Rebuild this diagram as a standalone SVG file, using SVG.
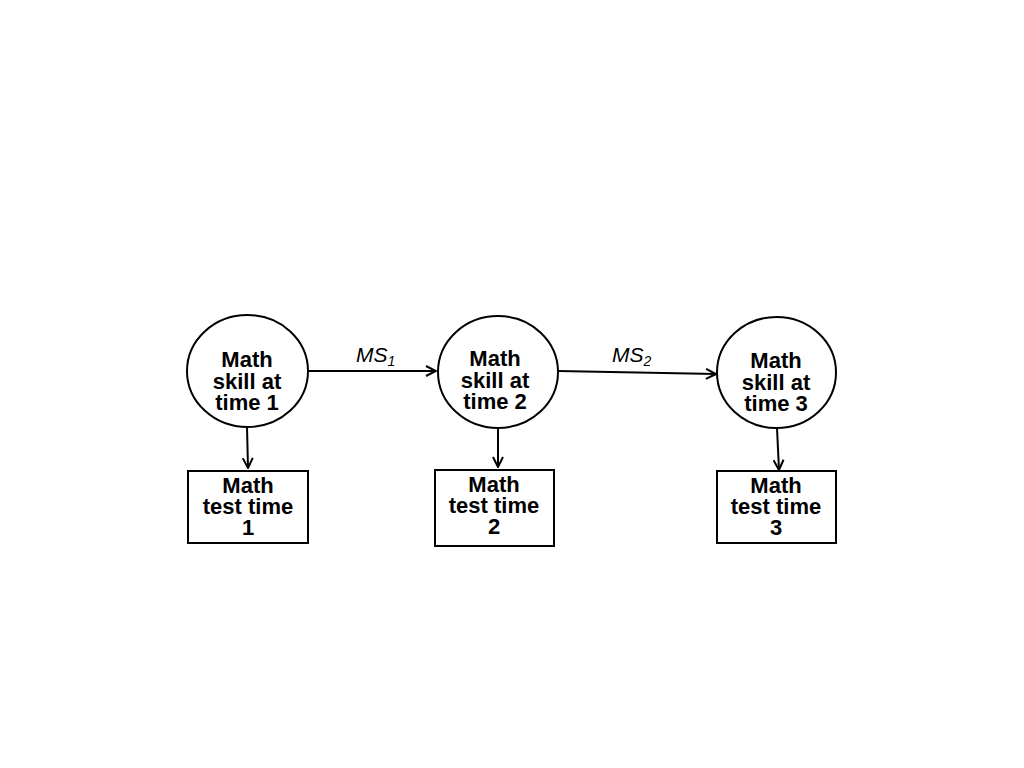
<svg xmlns="http://www.w3.org/2000/svg" width="1024" height="768" viewBox="0 0 1024 768">
<style>
.n{fill:#fff;stroke:#000;stroke-width:2}
.t{font-family:"Liberation Sans",Arial,sans-serif;font-weight:bold;font-size:22px;text-anchor:middle;fill:#000}
.l{font-family:"Liberation Sans",Arial,sans-serif;font-style:italic;font-size:21px;fill:#000}
.c{fill:none;stroke:#000;stroke-width:2}
</style>
<defs>
<marker id="ah" viewBox="0 0 12 12" refX="11" refY="6" markerWidth="12" markerHeight="12" markerUnits="userSpaceOnUse" orient="auto">
<path d="M1,1 L11,6 L1,11" fill="none" stroke="#000" stroke-width="2"/>
</marker>
</defs>
<rect width="1024" height="768" fill="#fff"/>
<g id="connectors">
<line class="c" x1="308" y1="371" x2="436" y2="371" marker-end="url(#ah)"/>
<line class="c" x1="558" y1="371" x2="716" y2="374" marker-end="url(#ah)"/>
<line class="c" x1="247" y1="427" x2="248" y2="468" marker-end="url(#ah)"/>
<line class="c" x1="498" y1="428" x2="498" y2="467" marker-end="url(#ah)"/>
<line class="c" x1="777" y1="428" x2="779" y2="470" marker-end="url(#ah)"/>
<text class="l" x="356" y="362">MS<tspan font-size="14" dy="4">1</tspan></text>
<text class="l" x="612" y="362">MS<tspan font-size="14" dy="4">2</tspan></text>
</g>
<g id="skill1">
<ellipse class="n" cx="247.5" cy="371" rx="60.5" ry="56"/>
<text class="t"><tspan x="247" y="367">Math</tspan><tspan x="247" y="388.5">skill at</tspan><tspan x="247" y="410">time 1</tspan></text>
</g>
<g id="skill2">
<ellipse class="n" cx="498" cy="372" rx="60" ry="56"/>
<text class="t"><tspan x="495" y="366">Math</tspan><tspan x="495" y="387.5">skill at</tspan><tspan x="495" y="409">time 2</tspan></text>
</g>
<g id="skill3">
<ellipse class="n" cx="776.5" cy="372.5" rx="59.5" ry="55.5"/>
<text class="t"><tspan x="776" y="368">Math</tspan><tspan x="776" y="389.5">skill at</tspan><tspan x="776" y="411">time 3</tspan></text>
</g>
<g id="test1">
<rect class="n" x="188" y="471" width="120" height="72"/>
<text class="t"><tspan x="248" y="493">Math</tspan><tspan x="248" y="514">test time</tspan><tspan x="248" y="535">1</tspan></text>
</g>
<g id="test2">
<rect class="n" x="435" y="470" width="119" height="76"/>
<text class="t"><tspan x="494" y="492">Math</tspan><tspan x="494" y="513">test time</tspan><tspan x="494" y="534">2</tspan></text>
</g>
<g id="test3">
<rect class="n" x="717" y="471" width="119" height="72"/>
<text class="t"><tspan x="776" y="493">Math</tspan><tspan x="776" y="514">test time</tspan><tspan x="776" y="535">3</tspan></text>
</g>
</svg>
